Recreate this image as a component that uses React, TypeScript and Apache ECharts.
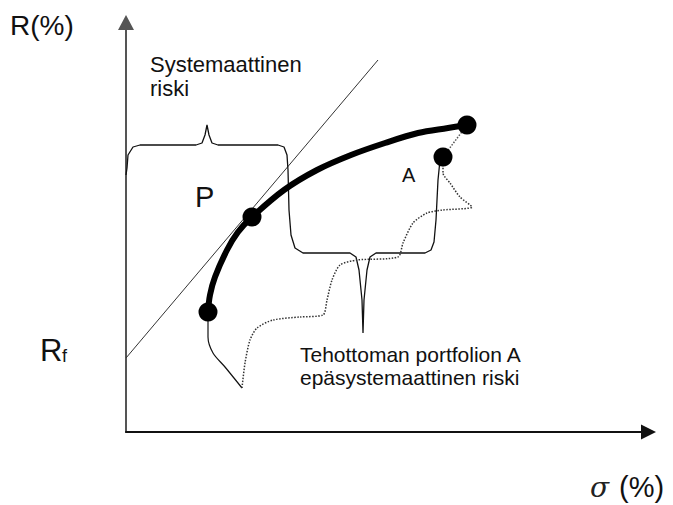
import React, { useEffect, useRef } from "react";
import * as echarts from "echarts";

// Diagram values (σ on x, R on y), in diagram units measured from the origin
const cmlLine = [
  [0, 74],
  [252, 372],
];
const frontier = [
  [82, 120], [84, 137], [89, 155], [101, 182], [112, 200], [126, 215], [158, 242],
  [191, 262], [225, 277], [259, 289], [292, 299], [322, 304], [341, 307],
];
const portfolioDots = [
  [82, 120],
  [126, 215],
  [341, 307],
  [317, 275],
];
const braceLine = [
  [0, 257], [1, 264], [2, 277], [7, 285], [14, 287], [70, 287], [76, 289], [79, 297],
  [81, 307], [83, 297], [86, 289], [92, 287], [152, 287], [158, 285], [161, 277],
  [162, 262], [163, 222], [165, 197], [169, 184], [177, 179], [224, 179], [230, 175],
  [233, 162], [236, 132], [237, 99], [238, 132], [241, 162], [244, 175], [250, 179],
  [299, 179], [305, 182], [308, 190], [310, 212], [312, 252], [314, 272], [317, 275],
];
const lowerTail = [
  [82, 120], [82, 95], [87, 79], [99, 65], [116, 44],
];
const dottedRisk = [
  [116, 44], [119, 69], [124, 92], [131, 104], [147, 112], [174, 115], [197, 117],
  [201, 132], [206, 152], [214, 167], [231, 172], [272, 175], [277, 189], [287, 209],
  [301, 219], [317, 222], [346, 225], [334, 235], [324, 249], [317, 259], [317, 275],
];
const dottedLink = [
  [341, 307],
  [317, 275],
];

const yTitle = "R(%)";
const rfMain = "R";
const rfSub = "f";
const xTitleSym = "σ";
const xTitleUnit = "(%)";
const systematicLabel = "Systemaattinen\nriski";
const portfolioLabel = "P";
const aLabel = "A";
const unsystematicLabel = "Tehottoman portfolion A\nepäsystemaattinen riski";

const FONT = "'Liberation Sans', Arial, sans-serif";

export default function App() {
  const ref = useRef<HTMLDivElement>(null);
  useEffect(() => {
    if (!ref.current) return;
    const chart = echarts.init(ref.current, undefined, { renderer: "svg" });
    const txt = (text: string, x: number, y: number, size: number, extra: any = {}) => ({
      type: "text",
      x,
      y,
      silent: true,
      style: {
        text,
        fontSize: size,
        fontFamily: FONT,
        fill: "#111",
        align: "left",
        verticalAlign: "middle",
        ...extra,
      },
    });
    chart.setOption({
      animation: false,
      backgroundColor: "#ffffff",
      grid: { left: 126, right: 24.5, top: 22.5, bottom: 73 },
      xAxis: {
        type: "value",
        min: 0,
        max: 522.5,
        axisLine: {
          show: true,
          symbol: ["none", "triangle"],
          symbolSize: [15, 15],
          lineStyle: { color: "#111", width: 2 },
        },
        axisTick: { show: false },
        axisLabel: { show: false },
        splitLine: { show: false },
      },
      yAxis: {
        type: "value",
        min: 0,
        max: 409.5,
        axisLine: {
          show: true,
          symbol: ["none", "triangle"],
          symbolSize: [16, 15],
          lineStyle: { color: "#555", width: 2 },
        },
        axisTick: { show: false },
        axisLabel: { show: false },
        splitLine: { show: false },
      },
      series: [
        {
          type: "line",
          data: cmlLine,
          symbol: "none",
          lineStyle: { color: "#333", width: 1 },
          z: 2,
        },
        {
          type: "line",
          data: braceLine,
          symbol: "none",
          lineStyle: { color: "#111", width: 1.3 },
          z: 2,
        },
        {
          type: "line",
          data: lowerTail,
          symbol: "none",
          smooth: 0.3,
          lineStyle: { color: "#111", width: 1.2 },
          z: 2,
        },
        {
          type: "line",
          data: dottedRisk,
          symbol: "none",
          smooth: 0.25,
          lineStyle: { color: "#333", width: 1.5, type: [1.5, 1.5] },
          z: 2,
        },
        {
          type: "line",
          data: dottedLink,
          symbol: "none",
          lineStyle: { color: "#555", width: 1.5, type: [1.5, 1.5] },
          z: 2,
        },
        {
          type: "line",
          data: frontier,
          symbol: "none",
          smooth: 0.35,
          lineStyle: { color: "#000", width: 6, cap: "round" },
          z: 3,
        },
        {
          type: "scatter",
          data: portfolioDots,
          symbol: "circle",
          symbolSize: 19,
          itemStyle: { color: "#000", opacity: 1 },
          z: 4,
        },
      ],
      graphic: [
        txt(yTitle, 10, 25, 28),
        txt(rfMain, 40, 350, 31),
        txt(rfSub, 62, 356, 18),
        txt(xTitleSym, 590, 487, 28, { fontStyle: "italic", fontFamily: "'DejaVu Serif', serif", fill: "#222" }),
        txt(xTitleUnit, 619, 487, 29),
        txt(systematicLabel, 150, 52, 22, { lineHeight: 24, verticalAlign: "top" }),
        txt(portfolioLabel, 195, 197, 29),
        txt(aLabel, 402, 175, 20),
        txt(unsystematicLabel, 300, 343, 21, { lineHeight: 23, verticalAlign: "top" }),
      ],
    });
    return () => chart.dispose();
  }, []);
  return (
    <div
      ref={ref}
      style={{ position: "fixed", left: 0, top: 0, width: 673, height: 505, background: "#fff" }}
    />
  );
}
